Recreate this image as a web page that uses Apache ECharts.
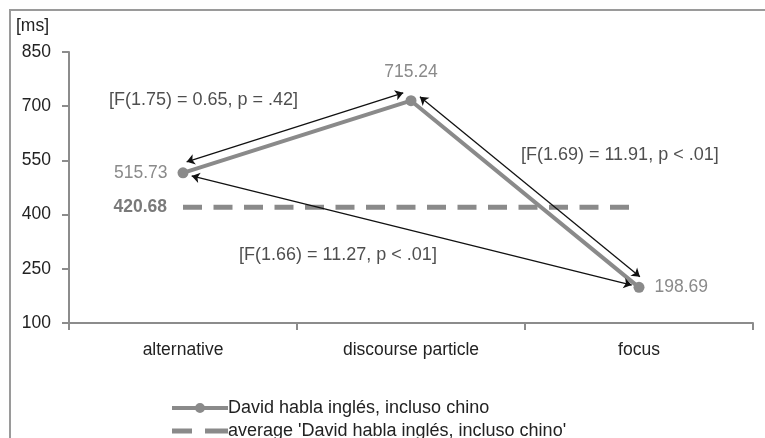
<!DOCTYPE html>
<html>
<head>
<meta charset="utf-8">
<script src="https://cdn.jsdelivr.net/npm/echarts@6/dist/echarts.min.js"></script>
<style>
html,body{margin:0;padding:0;background:#fff;}
#c{width:765px;height:438px;}
</style>
</head>
<body>
<div id="c"></div>
<script>
var categories = ['alternative', 'discourse particle', 'focus'];
var seriesName = 'David habla inglés, incluso chino';
var avgName = "average 'David habla inglés, incluso chino'";
var values = [515.73, 715.24, 198.69];
var averageValue = 420.68;
var yTicks = [100, 250, 400, 550, 700, 850];
// comparison arrows: [x0, y0, x1, y1] in data units (x = category index)
var arrowLines = [
  [0.016, 546, 0.966, 737],
  [1.039, 726, 2.004, 228],
  [0.038, 507, 1.968, 205]
];
var arrowTexts = ['[F(1.75) = 0.65, p = .42]', '[F(1.69) = 11.91, p < .01]', '[F(1.66) = 11.27, p < .01]'];
// text anchors (left-middle) in data units [x, y]
var arrowTextPos = [[-0.325, 717], [1.482, 565], [0.246, 288]];

var font = '"Liberation Sans", Arial, sans-serif';
var FS = 17.5;
var chart = echarts.init(document.getElementById('c'), null, {renderer: 'canvas'});

var labelPositions = ['left', 'top', 'right'];
var labelDistances = [10, 14, 10];
var lineData = values.map(function (v, i) {
  return {value: v, label: {show: true, position: labelPositions[i], distance: labelDistances[i],
    color: '#8a8a8a', fontSize: FS, fontFamily: font}};
});
var avgData = categories.map(function (c, i) {
  if (i === 0) {
    return {value: averageValue, label: {show: true, position: 'left', distance: 16,
      color: '#7a7a7a', fontWeight: 'bold', fontSize: FS, fontFamily: font}};
  }
  return averageValue;
});

var lineSeriesData = arrowLines.map(function (a) {
  return {coords: [[a[0], a[1]], [a[2], a[3]]]};
});

var legendText = {fontSize: 18, color: '#222', fontFamily: font, padding: [0, 0, 0, -5]};

chart.setOption({
  animation: false,
  backgroundColor: '#fff',
  textStyle: {fontFamily: font},
  title: {text: '[ms]', left: 11, top: 12, textStyle: {fontSize: FS, fontWeight: 'normal', color: '#222', fontFamily: font}},
  grid: {left: 69, right: 12, top: 52, bottom: 115, containLabel: false},
  legend: [{
    left: 167, top: 394, itemWidth: 56, itemHeight: 10, itemGap: 6,
    data: [{name: seriesName, icon: 'path://M0,3h56v4h-56zM28,0a5,5 0 1,1 -0.01,0z'}],
    itemStyle: {color: '#8a8a8a'},
    textStyle: legendText
  }, {
    left: 167, top: 417, itemWidth: 56, itemHeight: 5, itemGap: 6,
    data: [{name: avgName, icon: 'path://M0,0h20v5h-20zM33,0h23v5h-23z'}],
    itemStyle: {color: '#8a8a8a'},
    textStyle: legendText
  }],
  xAxis: [{
    type: 'category', data: categories, boundaryGap: true,
    axisLine: {lineStyle: {color: '#8c8c8c', width: 2}},
    axisTick: {show: true, length: 7, lineStyle: {color: '#8c8c8c', width: 2}},
    axisLabel: {fontSize: FS, color: '#222', margin: 18, fontFamily: font},
    splitLine: {show: false}
  }, {
    type: 'value', min: -0.5, max: 2.5, show: false, position: 'top'
  }],
  yAxis: {
    type: 'value', min: yTicks[0], max: yTicks[yTicks.length - 1], interval: 150,
    axisLine: {show: true, onZero: false, lineStyle: {color: '#8c8c8c', width: 2}},
    axisTick: {show: true, length: 7, lineStyle: {color: '#8c8c8c', width: 2}},
    axisLabel: {fontSize: FS, color: '#222', margin: 18, fontFamily: font},
    splitLine: {show: false}
  },
  series: [{
    name: avgName, type: 'line', data: avgData, symbol: 'circle', symbolSize: 0, showSymbol: true,
    lineStyle: {color: '#8a8a8a', width: 5, type: [19, 11.5]},
    itemStyle: {color: '#8a8a8a'}, z: 2
  }, {
    name: seriesName, type: 'line', data: lineData, symbol: 'circle', symbolSize: 11,
    lineStyle: {color: '#8a8a8a', width: 4},
    itemStyle: {color: '#8a8a8a'}, z: 3
  }, {
    type: 'lines', coordinateSystem: 'cartesian2d', xAxisIndex: 1, yAxisIndex: 0,
    data: lineSeriesData, symbol: ['arrow', 'arrow'], symbolSize: [8, 8],
    lineStyle: {color: '#111', width: 1.3, opacity: 1}, z: 4, silent: true
  }, {
    type: 'scatter', xAxisIndex: 1, yAxisIndex: 0, symbolSize: 0, silent: true,
    data: arrowTextPos.map(function (p, i) {
      return {value: p, label: {show: true, formatter: arrowTexts[i], position: 'right', distance: 0,
        color: '#222', fontSize: 18, fontFamily: font}};
    }),
    z: 5
  }],
  graphic: [{
    type: 'rect', shape: {x: 10, y: 10, width: 800, height: 500},
    style: {fill: null, stroke: '#9a9a9a', lineWidth: 2}, silent: true, z: -1
  }]
});
</script>
</body>
</html>
